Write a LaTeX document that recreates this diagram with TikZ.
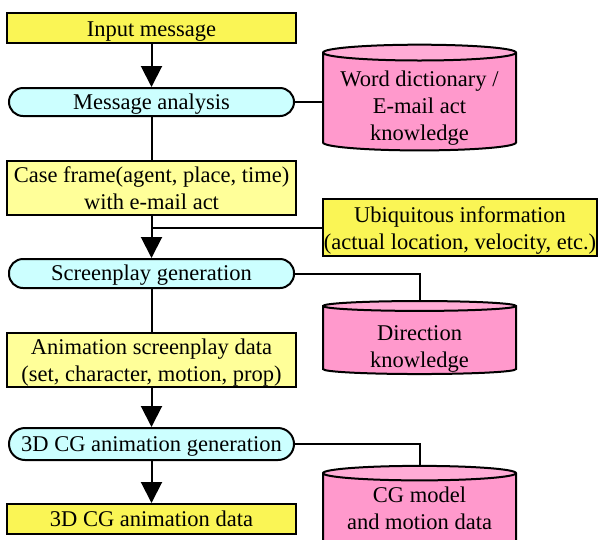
\documentclass[tikz,border=0pt]{standalone}
\usepackage{fontspec}
\setmainfont{Liberation Serif}
\usetikzlibrary{arrows.meta,shapes.geometric,positioning}

\definecolor{ioyellow}{RGB}{250,245,85}
\definecolor{datayellow}{RGB}{255,255,153}
\definecolor{proccyan}{RGB}{204,255,255}
\definecolor{storepink}{RGB}{255,153,204}
\definecolor{storetop}{RGB}{255,172,214}

% centred lines, set a little low in the box
\newcommand{\nodetext}[2][3pt]{\raisebox{-#1}[\height][\depth]{\begin{tabular}{@{}c@{}}#2\end{tabular}}}

\begin{document}
\begin{tikzpicture}[x=1pt,y=-1pt,->,>={Triangle[length=21pt,width=21pt]},line width=2pt,node distance=86pt,font=\fontsize{22.5}{27}\selectfont,
  io node/.style={rectangle,draw,fill=ioyellow,minimum width=289pt,minimum height=30pt,inner sep=0pt},
  data node/.style={rectangle,draw,fill=datayellow,minimum width=289pt,minimum height=53pt,inner sep=0pt},
  proc node/.style={rectangle,rounded corners=14pt,draw,fill=proccyan,minimum width=285pt,minimum height=29pt,inner sep=0pt},
  store node/.style={cylinder,shape border rotate=90,aspect=0.1,draw,cylinder uses custom fill,cylinder body fill=storepink,cylinder end fill=storetop,minimum width=193pt,inner sep=0pt}]

  \useasboundingbox (0,0) rectangle (600,539);

  % main column
  \node[io node] (in) at (151.5,28) {\nodetext{Input message}};
  \node[proc node,minimum height=28pt] (ma) [below of=in, node distance=74pt] {\nodetext[2pt]{Message analysis}};
  \node[data node] (cf) [below of=ma, node distance=85.5pt] {\nodetext{Case frame(agent, place, time)\\with e-mail act}};
  \node[proc node] (sg) [below of=cf] {\nodetext[2pt]{Screenplay generation}};
  \node[data node] (asd) [below of=sg] {\nodetext{Animation screenplay data\\(set, character, motion, prop)}};
  \node[proc node,minimum height=32pt,rounded corners=16pt] (gen) [below of=asd, node distance=84.5pt] {\nodetext[2pt]{3D CG animation generation}};
  \node[io node] (dat) [below of=gen, node distance=75pt] {\nodetext[2pt]{3D CG animation data}};

  % knowledge and side inputs
  \node[store node,minimum height=92pt] (dict) [right of=ma, node distance=268pt] {\nodetext[6pt]{Word dictionary /\\E-mail act\\knowledge}};
  \node[data node,fill=ioyellow,minimum width=274pt,minimum height=57pt] (ubi) at (460,227.5) {\nodetext{Ubiquitous information\\(actual location, velocity, etc.)}};
  \node[store node,minimum height=73pt] (dir) at (419.5,340.5) {\nodetext[8pt]{Direction\\knowledge}};
  \node[store node,minimum height=82pt] (cgm) at (419.5,511) {\nodetext[0pt]{CG model\\and motion data}};

  \path[->]
       (in) edge (ma)
       (cf) edge (sg)
       (asd) edge (gen)
       (gen) edge (dat);

  \path[-]
       (ma) edge (cf)
       (sg) edge (asd)
       (ma) edge (dict);

  \draw[-] (ubi.west) -- (ubi.west -| cf.south);
  \draw[-] (sg.east) -| (dir.north);
  \draw[-] (gen.east) -| (cgm.north);
\end{tikzpicture}
\end{document}
